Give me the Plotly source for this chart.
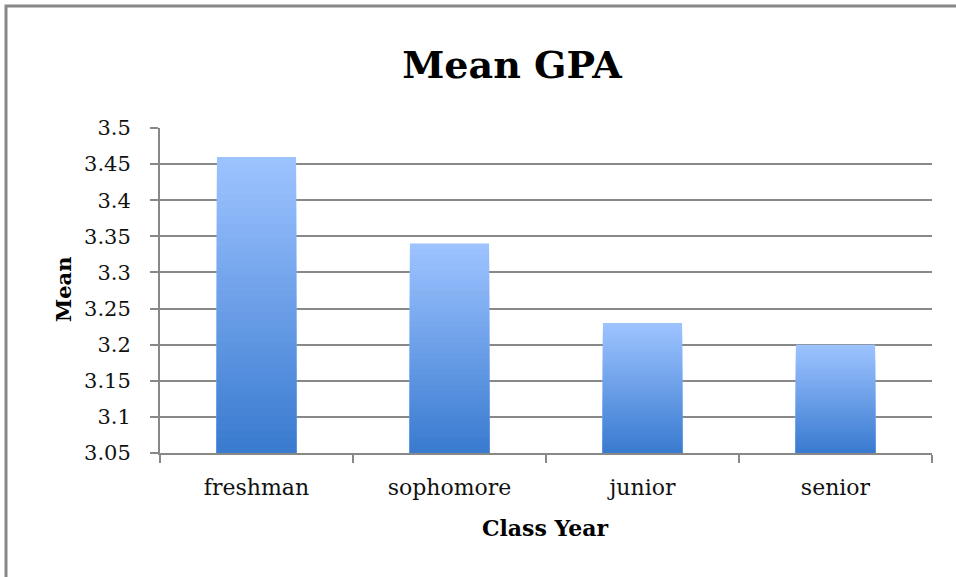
import plotly.graph_objects as go

categories = ["freshman", "sophomore", "junior", "senior"]
mean_gpa = [3.46, 3.34, 3.23, 3.20]
y_tick_vals = [3.05, 3.1, 3.15, 3.2, 3.25, 3.3, 3.35, 3.4, 3.45, 3.5]
y_tick_text = ["3.05", "3.1", "3.15", "3.2", "3.25", "3.3", "3.35", "3.4", "3.45", "3.5"]
y_min, y_max = 3.05, 3.5

SERIF = "DejaVu Serif"
GRID = "#888888"

W, H = 956, 577
PL, PR, PT, PB = 160, 932, 128, 453   # plot area in page pixels
PW, PH = PR - PL, PB - PT

fig = go.Figure()

# gradient bars: nested overlaid bars, light at top to dark at bottom
N = 40
top_rgb = (157, 195, 255)
bot_rgb = (58, 123, 208)
for k in range(N):
    frac = (N - k) / N
    t = k / (N - 1)
    c = tuple(int(round(top_rgb[i] + (bot_rgb[i] - top_rgb[i]) * t)) for i in range(3))
    fig.add_trace(go.Bar(
        x=categories,
        y=[y_min + (v - y_min) * frac for v in mean_gpa],
        marker=dict(color="rgb(%d,%d,%d)" % c, line=dict(width=0)),
        width=0.41,
        showlegend=False,
        hoverinfo="skip" if k else None,
    ))

fig.update_layout(
    width=W, height=H,
    margin=dict(l=PL, r=W - PR, t=PT, b=H - PB, autoexpand=False),
    barmode="overlay",
    paper_bgcolor="white", plot_bgcolor="white",
    font=dict(family=SERIF, color="#111"),
    title=dict(text="<b>Mean GPA</b>", font=dict(family=SERIF, size=38, color="#000"),
               xref="container", yref="container", x=512 / W, y=1 - 65 / H,
               xanchor="center", yanchor="middle"),
    xaxis=dict(
        showline=True, linecolor=GRID, linewidth=2,
        ticks="outside", tickson="boundaries", ticklen=8, tickwidth=2, tickcolor=GRID,
        tickfont=dict(family=SERIF, size=22, color="#111"),
        ticklabelstandoff=14,
        showgrid=False,
    ),
    yaxis=dict(
        range=[y_min, y_max], tickvals=y_tick_vals, ticktext=y_tick_text,
        showline=True, linecolor=GRID, linewidth=2,
        ticks="outside", ticklen=8, tickwidth=2, tickcolor=GRID,
        showgrid=True, gridcolor=GRID, gridwidth=2,
        tickfont=dict(family=SERIF, size=21, color="#111"),
        ticklabelstandoff=15,
        zeroline=False,
    ),
    annotations=[
        dict(text="<b>Mean</b>", xref="paper", yref="paper", x=(63 - PL) / PW, y=(PB - 290) / PH,
             textangle=-90, showarrow=False, xanchor="center", yanchor="middle",
             font=dict(family=SERIF, size=21, color="#000")),
        dict(text="<b>Class Year</b>", xref="paper", yref="paper", x=(545 - PL) / PW, y=(PB - 528) / PH,
             showarrow=False, xanchor="center", yanchor="middle",
             font=dict(family=SERIF, size=22, color="#000")),
    ],
    shapes=[
        dict(type="rect", xref="paper", yref="paper",
             x0=(6 - PL) / PW, x1=1.2, y0=-0.6, y1=(PB - 6) / PH,
             line=dict(color="#888", width=3), fillcolor="rgba(0,0,0,0)", layer="below"),
    ],
)

fig.write_html("out.html", config={"displayModeBar": False},
               post_script="document.body.style.margin='0';")
